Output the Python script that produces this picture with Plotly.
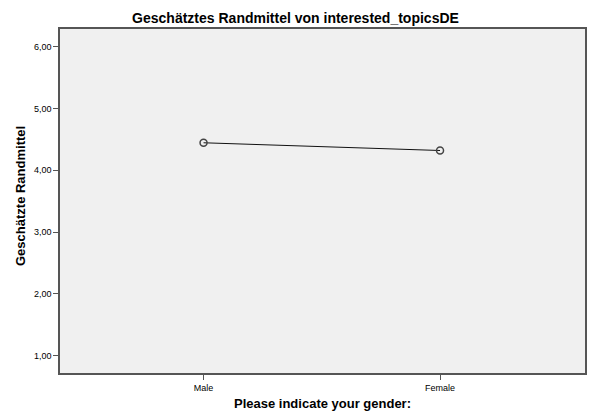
import plotly.graph_objects as go

categories = ["Male", "Female"]
means = [4.445, 4.32]
y_ticks = [1, 2, 3, 4, 5, 6]

fig = go.Figure()
fig.add_trace(go.Scatter(
    x=[0, 1], y=means, mode="lines+markers",
    line=dict(color="#111111", width=1),
    marker=dict(symbol="circle-open", size=7, color="#444444", line=dict(width=1.5)),
    showlegend=False, hoverinfo="skip",
))

font_family = "Liberation Sans, Arial, sans-serif"
W, H = 591, 411
fig.update_layout(
    width=W, height=H,
    margin=dict(l=60, r=6, t=29, b=38),
    paper_bgcolor="white",
    plot_bgcolor="#f0f0f0",
    separators=",.",
    font=dict(family=font_family, color="black"),
    title=dict(text="<b>Geschätztes Randmittel von interested_topicsDE</b>",
               x=0.5, xanchor="center", y=1 - 18 / H, yanchor="middle",
               font=dict(size=14, family=font_family)),
    annotations=[
        dict(text="<b>Please indicate your gender:</b>", xref="paper", yref="paper",
             x=(322 - 60) / (W - 66), y=-(403 - 373) / (H - 67),
             xanchor="center", yanchor="middle", showarrow=False, font=dict(size=13)),
        dict(text="<b>Geschätzte Randmittel</b>", xref="paper", yref="paper",
             x=-(60 - 20) / (W - 66), y=(373 - 196) / (H - 67), textangle=-90,
             xanchor="center", yanchor="middle", showarrow=False, font=dict(size=13)),
    ],
)
fig.update_xaxes(
    range=[-0.607, 1.613], tickmode="array", tickvals=[0, 1], ticktext=categories,
    showgrid=False, zeroline=False, automargin=False, fixedrange=True,
    showline=True, linecolor="#555555", linewidth=1.5, mirror=True,
    ticks="outside", ticklen=5, tickcolor="#555555", tickwidth=1,
    tickfont=dict(size=9),
)
fig.update_yaxes(
    range=[0.718, 6.287], tickmode="array", tickvals=y_ticks, tickformat=".2f",
    showgrid=False, zeroline=False, automargin=False, fixedrange=True,
    showline=True, linecolor="#555555", linewidth=1.5, mirror=True,
    ticks="outside", ticklen=5, tickcolor="#555555", tickwidth=1,
    tickfont=dict(size=9),
)

fig.write_html("out.html", config={"displayModeBar": False},
               post_script="document.body.style.margin='0';document.body.style.padding='0';document.body.style.overflow='hidden';")
